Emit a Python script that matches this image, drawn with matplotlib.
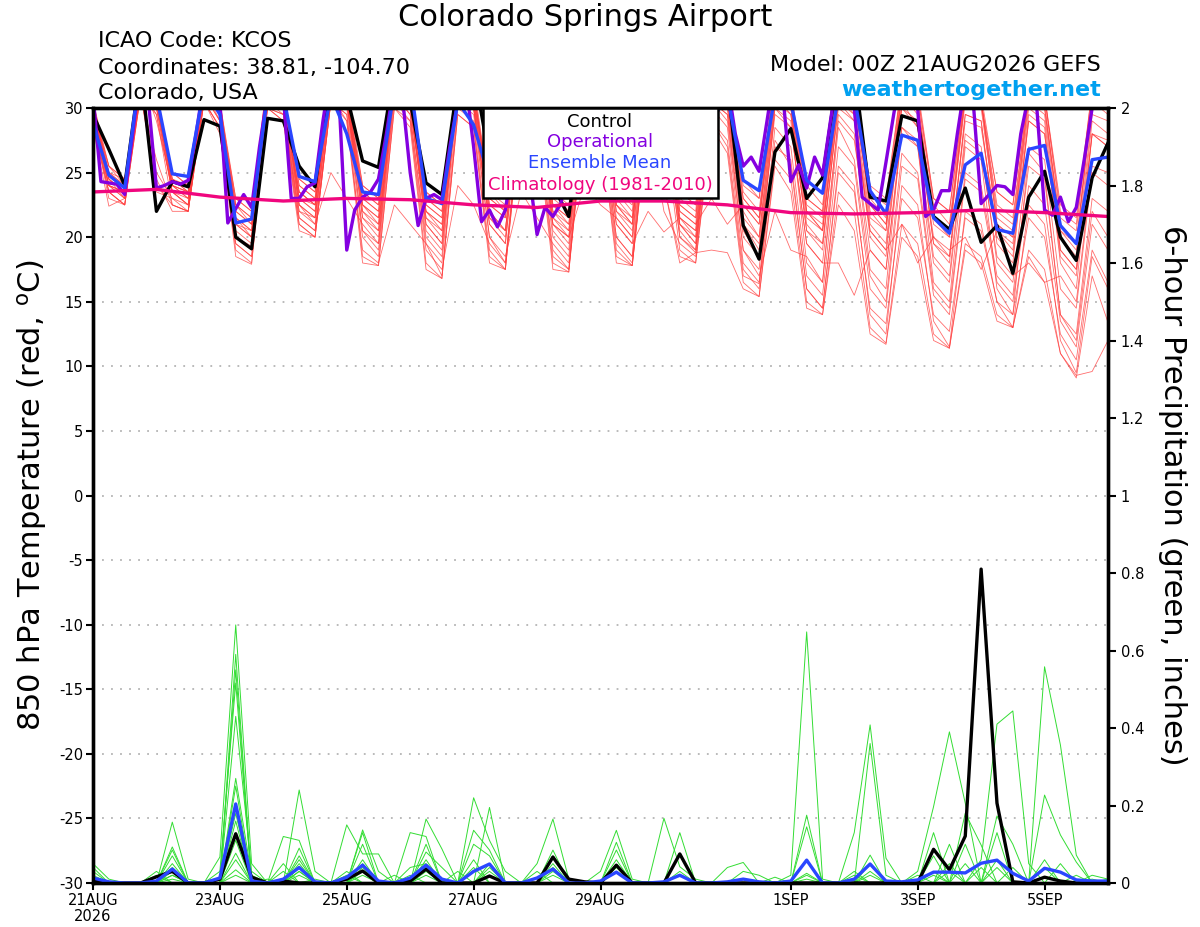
import numpy as np
import matplotlib.pyplot as plt
from matplotlib.patches import Rectangle

plt.rcParams['axes.unicode_minus'] = False
plt.rcParams['font.family'] = ['DejaVu Sans']

# forecast hours (6-hourly ensemble, 3-hourly operational, daily climatology)
hours = np.arange(0, 385, 6)
op_hours = np.arange(0, 385, 3)
clim_hours = np.arange(0, 385, 24)

tick_days = [0, 2, 4, 6, 8, 11, 13, 15]
tick_labels = ['21AUG\n2026', '23AUG', '25AUG', '27AUG', '29AUG', '1SEP', '3SEP', '5SEP']
temp_ticks = [30, 25, 20, 15, 10, 5, 0, -5, -10, -15, -20, -25, -30]
precip_ticks = [0, 0.2, 0.4, 0.6, 0.8, 1, 1.2, 1.4, 1.6, 1.8, 2]
precip_labels = ['0', '0.2', '0.4', '0.6', '0.8', '1', '1.2', '1.4', '1.6', '1.8', '2']

# 850 hPa temperature (C)
control_t = [29.5, 26.8, 24.0, 33.0, 22.0, 24.3, 23.9, 29.1, 28.6, 20.0, 19.1, 29.2,
             29.0, 25.5, 23.9, 33.0, 31.0, 25.9, 25.4, 33.0, 30.5, 24.2, 23.3, 32.0,
             33.0, 26.0, 25.0, 31.0, 31.5, 24.0, 21.6, 31.0, 30.5, 26.0, 24.5, 31.0,
             31.0, 25.5, 24.0, 30.5, 32.0, 20.9, 18.3, 26.6, 28.4, 23.0, 24.6, 33.0,
             33.0, 23.1, 22.8, 29.4, 29.0, 21.6, 20.6, 23.8, 19.6, 20.9, 17.2, 23.1,
             25.1, 20.0, 18.2, 24.6, 27.3]

mean_t = [28.8, 24.8, 23.8, 33.0, 31.0, 24.9, 24.7, 31.5, 29.5, 21.1, 21.4, 31.0,
          31.0, 24.7, 24.3, 31.0, 28.0, 23.5, 23.3, 31.5, 32.0, 23.0, 22.6, 30.5,
          28.7, 24.5, 24.0, 29.0, 31.0, 26.5, 24.0, 28.0, 31.0, 26.5, 24.5, 29.0,
          31.0, 26.0, 24.5, 29.0, 31.0, 24.4, 23.6, 31.0, 30.5, 24.4, 23.4, 31.0,
          31.0, 23.6, 21.8, 27.9, 27.5, 21.5, 20.3, 25.6, 26.5, 20.6, 20.3, 26.8,
          27.1, 20.9, 19.5, 26.0, 26.2]

oper_t = [31.0, 24.3, 24.2, 24.1, 23.3, 28.0, 33.0, 30.5,
          23.8, 24.0, 24.3, 24.1, 24.4, 28.0, 32.0, 33.0,
          30.5, 21.1, 22.2, 23.3, 22.3, 27.0, 31.0, 33.0,
          31.0, 23.0, 23.0, 23.9, 24.2, 29.0, 33.0, 31.0,
          19.0, 22.1, 23.1, 23.5, 24.5, 28.0, 32.0, 31.0,
          25.0, 20.9, 23.0, 23.3, 22.9, 27.0, 30.5, 32.0,
          27.0, 21.2, 22.1, 20.8, 22.1, 26.0, 28.0, 25.0,
          20.2, 22.3, 21.6, 22.6, 26.0, 29.0, 31.0, 30.0,
          27.0, 25.0, 24.5, 25.0, 26.0, 29.0, 31.0, 31.0,
          28.0, 25.0, 24.0, 24.5, 25.0, 28.0, 31.0, 33.0,
          32.0, 28.0, 25.5, 26.2, 25.1, 29.0, 33.0, 31.0,
          24.3, 25.6, 23.8, 26.2, 24.8, 29.0, 33.0, 33.0,
          30.0, 23.1, 22.6, 22.1, 25.8, 29.6, 33.0, 33.0,
          30.0, 21.6, 22.1, 23.6, 23.6, 28.0, 32.0, 30.5,
          22.6, 23.3, 24.0, 23.9, 23.3, 28.0, 31.0, 30.2,
          22.1, 21.7, 23.1, 21.2, 22.3, 26.0, 30.0, 33.0,
          33.0]

clim_t = [23.5, 23.7, 23.1, 22.8, 23.0, 22.9, 22.5, 22.3, 22.8, 22.8, 22.5,
          21.9, 21.8, 21.9, 22.1, 21.9, 21.6]

members_t = [
    [29.5, 25.5, 24.0, 33.5, 30.5, 25.0, 24.0, 32.0, 29.5, 22.5, 21.0, 31.5, 31.0, 24.5, 23.5, 33.0,
     32.0, 24.0, 23.0, 32.5, 31.0, 23.5, 22.5, 32.0, 30.5, 24.0, 23.0, 33.5, 32.0, 23.5, 22.0, 32.0,
     31.5, 24.5, 23.0, 32.5, 31.0, 23.5, 22.5, 33.0, 32.0, 24.5, 23.0, 32.5, 31.5, 23.0, 22.0, 33.0,
     32.5, 24.0, 23.0, 32.0, 31.5, 23.0, 22.0, 31.5, 30.5, 23.5, 22.5, 32.0, 31.0, 22.0, 21.0, 31.5, 30.5],
    [30.0, 24.5, 23.0, 32.5, 29.0, 24.0, 23.5, 31.5, 30.5, 21.5, 20.0, 32.0, 30.5, 23.0, 22.0, 32.5,
     31.0, 22.5, 21.0, 31.5, 30.0, 22.0, 20.5, 32.0, 31.5, 22.5, 21.5, 32.5, 30.5, 21.0, 20.0, 31.0,
     30.0, 22.0, 21.0, 31.5, 30.5, 21.5, 20.5, 32.0, 31.0, 22.0, 20.0, 31.5, 30.0, 21.5, 20.5, 31.0,
     29.5, 21.0, 19.5, 30.5, 28.5, 20.0, 19.0, 20.0, 17.5, 20.5, 19.5, 30.0, 29.0, 19.0, 17.5, 29.0, 28.0],
    [29.0, 23.5, 22.5, 31.5, 25.0, 23.0, 22.0, 31.0, 29.0, 20.0, 19.0, 30.5, 30.0, 22.0, 21.0, 31.5,
     30.5, 20.5, 19.0, 31.0, 29.5, 20.0, 18.5, 31.5, 30.0, 21.0, 19.5, 31.0, 29.5, 20.0, 18.5, 30.5,
     29.0, 21.0, 19.5, 30.0, 29.5, 20.5, 19.0, 30.5, 29.0, 19.0, 17.0, 22.0, 19.0, 18.5, 16.5, 28.5,
     26.0, 17.0, 15.0, 26.5, 25.0, 16.0, 14.5, 25.0, 24.0, 17.0, 15.5, 25.5, 24.5, 14.0, 12.0, 22.0, 20.0],
    [30.5, 25.0, 24.5, 33.0, 31.5, 24.5, 23.5, 32.0, 30.0, 23.0, 22.0, 32.5, 31.5, 24.0, 23.0, 33.0,
     31.0, 23.5, 22.5, 32.0, 31.5, 23.0, 22.0, 33.0, 32.0, 23.5, 22.0, 32.5, 31.0, 22.5, 21.5, 32.0,
     31.5, 23.5, 22.0, 32.5, 31.0, 22.0, 21.0, 32.0, 31.5, 23.0, 21.5, 32.5, 31.0, 22.0, 20.5, 31.5,
     30.5, 22.5, 21.0, 31.0, 30.0, 21.5, 20.5, 31.0, 30.5, 22.0, 21.0, 31.5, 30.0, 20.5, 19.5, 30.5, 29.5],
    [28.5, 24.0, 23.5, 31.0, 24.0, 22.5, 22.0, 30.5, 28.0, 19.5, 18.5, 30.0, 29.5, 21.5, 20.5, 31.0,
     29.0, 19.0, 18.0, 22.5, 21.0, 19.5, 17.0, 30.0, 29.0, 19.0, 17.5, 30.5, 29.5, 18.5, 17.5, 30.0,
     29.0, 19.5, 18.0, 29.5, 28.5, 19.0, 18.0, 29.0, 27.5, 17.5, 16.0, 27.0, 26.0, 16.0, 14.5, 25.5,
     24.0, 14.0, 12.5, 24.0, 22.5, 13.5, 11.5, 22.0, 21.0, 15.0, 13.0, 22.5, 21.0, 12.0, 9.5, 18.5, 16.0],
    [29.5, 24.0, 23.0, 32.5, 30.0, 24.5, 24.0, 31.5, 29.5, 22.0, 21.0, 31.0, 30.5, 23.5, 22.5, 32.0,
     31.0, 22.0, 20.5, 31.5, 30.5, 21.5, 20.0, 32.0, 30.5, 22.0, 20.5, 31.5, 30.0, 21.5, 20.0, 31.0,
     30.5, 22.5, 21.0, 31.5, 30.0, 21.0, 19.5, 31.0, 30.0, 20.5, 18.5, 30.0, 28.5, 19.5, 18.0, 29.0,
     27.5, 19.0, 17.5, 28.0, 27.0, 18.0, 16.5, 27.5, 26.5, 18.5, 17.0, 18.0, 16.5, 17.0, 15.0, 25.5, 25.0],
    [30.0, 25.5, 24.5, 32.0, 30.5, 23.5, 22.5, 31.5, 30.0, 21.0, 20.0, 32.5, 31.0, 22.5, 21.0, 25.0,
     23.0, 21.0, 19.5, 32.0, 30.5, 20.5, 19.0, 31.5, 30.0, 20.0, 18.0, 31.0, 30.5, 20.5, 19.0, 31.5,
     30.0, 20.0, 18.5, 31.0, 30.0, 20.0, 19.0, 30.5, 29.5, 19.0, 17.5, 30.0, 29.0, 18.0, 16.5, 29.5,
     28.0, 17.5, 16.0, 28.5, 27.0, 16.5, 15.0, 27.0, 26.0, 16.0, 14.0, 26.5, 25.0, 14.0, 12.5, 23.0, 22.0],
    [29.0, 23.0, 22.5, 31.0, 29.5, 23.5, 22.5, 31.5, 29.0, 20.5, 19.5, 31.0, 30.0, 21.5, 20.5, 30.5,
     30.5, 22.0, 21.0, 31.5, 30.0, 21.5, 20.5, 31.0, 30.5, 21.0, 19.5, 31.5, 30.5, 22.0, 20.5, 31.0,
     30.0, 21.0, 19.5, 22.0, 20.4, 21.5, 20.0, 31.0, 30.5, 21.0, 19.0, 30.5, 30.0, 20.5, 19.0, 30.5,
     29.5, 20.0, 18.5, 30.0, 29.0, 19.5, 18.0, 29.5, 29.0, 19.5, 18.0, 29.5, 28.5, 18.0, 16.0, 28.0, 27.0],
    [30.5, 24.5, 23.5, 32.5, 31.0, 24.0, 23.0, 32.5, 30.5, 21.5, 20.5, 32.0, 31.5, 23.0, 22.0, 32.5,
     31.5, 23.0, 22.0, 32.5, 31.0, 22.5, 21.5, 32.5, 31.5, 23.0, 22.0, 32.5, 31.0, 22.5, 21.0, 32.0,
     31.5, 22.5, 21.0, 32.0, 31.5, 22.5, 21.5, 32.5, 31.5, 23.0, 21.5, 32.0, 31.0, 22.5, 21.5, 32.0,
     31.0, 22.0, 20.5, 31.5, 30.5, 21.5, 20.0, 31.0, 30.5, 21.0, 20.0, 31.0, 30.5, 20.5, 19.0, 30.5, 30.0],
    [29.0, 24.0, 23.0, 31.5, 23.5, 23.0, 22.5, 30.5, 28.5, 19.0, 18.0, 30.0, 29.0, 21.0, 20.0, 30.5,
     29.5, 18.5, 17.8, 30.0, 29.0, 18.0, 16.8, 29.5, 28.5, 18.5, 17.5, 29.5, 29.0, 18.0, 17.3, 29.5,
     28.5, 18.5, 17.8, 29.0, 24.0, 18.5, 18.0, 28.5, 26.5, 16.5, 15.4, 26.0, 24.5, 15.0, 14.0, 23.5,
     22.0, 13.0, 11.8, 21.0, 19.5, 12.5, 11.4, 19.5, 18.5, 14.0, 13.0, 19.0, 17.5, 11.0, 9.1, 17.0, 13.4],
    [30.0, 25.0, 24.0, 33.0, 30.5, 24.0, 23.5, 32.0, 30.5, 22.5, 21.5, 32.5, 31.0, 24.0, 23.0, 33.0,
     31.5, 23.5, 22.5, 32.5, 31.0, 23.0, 22.0, 32.5, 31.5, 23.5, 22.5, 33.0, 31.5, 23.0, 22.0, 32.0,
     31.0, 23.5, 22.5, 32.5, 31.5, 23.0, 22.0, 32.5, 31.5, 23.5, 22.0, 32.5, 31.0, 23.0, 22.0, 32.5,
     31.0, 23.0, 21.5, 32.0, 31.0, 22.5, 21.0, 31.5, 30.5, 22.5, 21.5, 31.5, 31.0, 21.5, 20.5, 31.0, 30.5],
    [28.5, 23.5, 22.5, 31.0, 26.0, 22.5, 22.0, 30.5, 28.5, 19.5, 18.5, 30.0, 29.5, 21.0, 20.0, 30.5,
     29.5, 20.0, 18.5, 30.5, 29.0, 19.0, 17.5, 24.0, 22.5, 19.5, 18.0, 30.0, 29.5, 19.0, 17.5, 30.0,
     29.0, 19.0, 17.8, 29.5, 22.0, 19.5, 18.5, 29.0, 27.0, 17.0, 16.4, 27.5, 25.5, 16.0, 14.5, 25.0,
     23.5, 14.5, 13.3, 23.0, 21.5, 14.0, 12.7, 21.5, 20.5, 15.0, 14.0, 21.5, 20.0, 12.5, 10.5, 19.0, 16.5],
    [29.5, 24.5, 23.5, 32.0, 30.0, 23.5, 23.0, 31.5, 29.5, 21.0, 20.0, 31.5, 30.5, 22.5, 21.5, 32.0,
     30.5, 21.5, 20.5, 31.5, 30.5, 21.0, 19.5, 31.5, 30.0, 21.5, 20.5, 31.5, 30.5, 21.0, 20.0, 24.0,
     22.5, 21.5, 20.0, 31.0, 30.0, 21.0, 20.0, 31.0, 30.5, 21.5, 20.0, 31.0, 29.5, 20.5, 19.5, 30.5,
     29.0, 20.5, 19.0, 30.0, 28.5, 19.5, 18.5, 29.5, 29.0, 20.0, 18.5, 29.0, 28.0, 18.5, 17.0, 28.0, 27.5],
    [30.5, 25.5, 24.5, 32.5, 31.0, 25.0, 24.0, 32.0, 30.5, 23.0, 22.0, 32.0, 31.0, 24.5, 23.5, 32.5,
     31.0, 24.0, 23.0, 32.5, 31.0, 23.5, 22.5, 32.0, 31.0, 24.0, 23.0, 32.5, 31.0, 23.5, 22.5, 32.0,
     31.0, 24.0, 23.0, 32.5, 31.0, 23.5, 22.5, 32.5, 31.5, 24.0, 23.0, 32.5, 31.0, 24.0, 22.5, 32.0,
     31.0, 23.5, 22.5, 32.0, 31.0, 23.0, 22.0, 32.0, 31.0, 23.5, 22.5, 32.0, 31.0, 22.5, 21.5, 31.5, 31.0],
    [29.0, 23.5, 22.5, 31.5, 29.5, 22.5, 22.0, 31.0, 29.0, 20.0, 19.3, 30.5, 29.5, 22.0, 21.5, 31.0,
     30.0, 20.5, 19.5, 31.0, 29.5, 19.5, 18.0, 30.5, 29.5, 20.0, 18.5, 23.5, 21.5, 19.5, 18.0, 30.5,
     29.5, 20.0, 18.5, 30.0, 29.5, 20.0, 18.8, 30.0, 28.5, 18.0, 16.5, 28.5, 27.0, 17.0, 15.5, 27.0,
     25.5, 16.0, 14.5, 25.5, 24.5, 15.5, 14.0, 24.5, 23.5, 16.5, 15.0, 24.0, 22.5, 13.5, 11.5, 21.0, 19.0],
    [30.0, 24.0, 23.5, 32.0, 30.5, 24.0, 23.0, 32.5, 30.0, 22.0, 21.0, 31.5, 30.5, 23.0, 22.5, 32.0,
     30.5, 22.5, 21.5, 32.0, 30.5, 22.0, 21.0, 32.0, 30.5, 22.5, 21.5, 32.0, 30.5, 22.0, 21.0, 31.5,
     30.5, 22.5, 21.5, 32.0, 30.5, 22.0, 21.0, 23.0, 21.0, 22.5, 21.0, 31.5, 30.0, 22.0, 20.5, 31.0,
     30.0, 21.5, 20.5, 31.0, 29.5, 21.0, 20.0, 30.5, 30.0, 21.0, 20.0, 30.5, 29.5, 20.0, 18.5, 29.5, 29.0],
    [29.5, 25.0, 24.0, 32.5, 30.5, 24.5, 23.5, 32.0, 29.5, 21.5, 20.5, 31.5, 30.5, 23.5, 22.5, 32.5,
     31.0, 22.5, 21.5, 32.0, 30.5, 22.0, 21.0, 32.0, 31.0, 22.0, 20.5, 32.0, 30.5, 21.5, 20.5, 31.5,
     30.5, 22.0, 20.5, 31.5, 30.5, 21.5, 20.5, 31.5, 30.0, 21.0, 19.5, 30.5, 29.5, 21.0, 19.5, 30.0,
     29.0, 20.5, 19.0, 21.0, 18.0, 20.0, 18.5, 29.0, 28.5, 20.5, 19.0, 29.0, 28.0, 19.0, 17.5, 28.0, 27.0],
    [30.0, 24.5, 23.5, 32.5, 30.5, 24.0, 23.5, 32.5, 30.0, 22.5, 21.5, 32.0, 31.0, 23.5, 22.5, 32.5,
     31.0, 23.0, 22.0, 32.5, 31.0, 22.5, 21.5, 32.5, 31.0, 23.0, 22.0, 32.5, 31.0, 22.5, 21.5, 32.0,
     31.0, 23.0, 21.5, 32.0, 31.0, 22.5, 21.5, 32.0, 31.0, 22.5, 21.0, 32.0, 30.5, 22.0, 21.0, 31.5,
     30.5, 22.5, 21.0, 31.5, 30.5, 21.5, 20.5, 31.0, 30.5, 21.5, 20.5, 31.0, 30.0, 21.0, 19.5, 30.5, 30.0],
    [28.5, 22.4, 23.0, 31.0, 24.5, 22.0, 22.0, 30.5, 28.5, 18.5, 17.9, 30.0, 29.0, 20.5, 20.0, 30.5,
     29.0, 18.0, 17.8, 30.0, 28.5, 17.5, 16.8, 29.5, 28.5, 18.0, 17.5, 29.5, 28.5, 17.5, 17.3, 29.5,
     28.5, 18.0, 17.8, 29.0, 24.0, 18.0, 18.8, 19.0, 18.8, 16.0, 15.4, 25.5, 23.5, 14.5, 14.0, 22.5,
     20.5, 12.5, 11.7, 20.0, 18.5, 12.0, 11.4, 19.0, 18.0, 13.5, 13.0, 18.5, 16.5, 11.0, 9.3, 9.6, 12.0],
    [29.5, 24.0, 23.5, 32.0, 30.0, 23.5, 22.5, 31.5, 29.5, 21.0, 20.5, 31.0, 30.0, 22.5, 21.5, 31.5,
     30.5, 21.5, 20.0, 31.5, 30.0, 21.0, 19.5, 31.0, 30.0, 21.5, 20.0, 31.0, 30.0, 21.0, 19.5, 31.0,
     30.0, 21.5, 20.0, 31.0, 30.0, 21.0, 19.5, 30.5, 29.5, 20.0, 18.5, 29.5, 28.5, 19.5, 18.0, 18.0,
     15.5, 19.0, 17.5, 28.5, 27.5, 18.5, 17.0, 28.0, 27.0, 18.0, 16.5, 27.0, 26.0, 16.0, 14.5, 25.0, 24.0],
]

# 6-hour precipitation (inches)
control_p = [.005, 0, 0, 0, .016, .03, 0, 0, .01, .127, .015, 0, .005, 0, 0, 0,
             .01, .031, 0, 0, .005, .036, 0, 0, 0, .018, 0, 0, 0, .067, .01, .003,
             0, .046, 0, 0, 0, .075, 0, 0, 0, 0, 0, 0, 0, 0, 0, 0,
             0, 0, 0, 0, 0, .087, .034, .121, .81, .206, .003, 0, .015, .005, 0, 0, 0]

mean_p = [.013, .003, 0, 0, .005, .036, 0, 0, .013, .204, .005, 0, .01, .04, .003, 0,
          .015, .046, .005, 0, .013, .046, .01, 0, .03, .049, 0, 0, .013, .036, 0, 0,
          .005, .028, 0, 0, .003, .02, 0, 0, .003, .01, .003, 0, .005, .059, 0, 0,
          .01, .049, .005, .003, .008, .028, .028, .026, .051, .059, .025, .005, .038, .028, .008, .005, .005]

members_p = [
    [.05,.01,0,0, 0,0,0,0, 0,.27,.02,0, 0,0,0,0, 0,.1,0,0, 0,0,0,0, .1,.07,0,0, 0,0,0,0, 0,0,0,0, 0,.13,0,0, 0,0,0,0, 0,0,0,0, 0,.03,0,0, 0,0,0,0, 0,0,0,0, .558,.356,.072,0, 0],
    [0,0,0,0, 0,.07,0,0, 0,.06,0,0, 0,.24,.03,0, 0,0,0,0, 0,.02,0,0, 0,0,0,0, 0,0,0,0, 0,.105,0,0, 0,0,0,0, 0,0,0,0, 0,0,0,0, 0,0,0,0, .02,0,0,0, 0,.173,.1,0, 0,0,0,0, 0],
    [0,0,0,0, .02,0,0,0, 0,.59,0,.01, 0,0,0,0, .02,0,0,0, 0,.06,0,0, 0,0,0,0, 0,.07,0,0, 0,0,0,0, 0,0,0,0, 0,0,0,0, 0,.025,0,0, 0,0,0,0, 0,0,0,.18, .098,0,0,0, 0,0,0,0, 0],
    [.04,0,0,0, 0,0,0,0, 0,.18,0,0, 0,.04,0,0, 0,.03,0,0, 0,0,0,.03, 0,.02,0,0, 0,0,0,0, 0,0,0,0, 0,.03,0,0, 0,0,0,0, 0,0,0,0, .13,.408,.064,0, 0,0,0,0, 0,0,0,0, 0,0,.02,0, 0],
    [0,0,0,0, 0,.157,.01,0, 0,0,0,0, 0,.09,0,0, 0,0,0,0, 0,.1,0,0, 0,0,0,0, .03,0,0,0, 0,0,0,0, 0,0,0,0, .04,.053,0,0, 0,0,0,0, 0,0,0,0, 0,.03,0,0, 0,0,0,0, 0,0,0,.01, 0],
    [0,0,0,0, 0,0,0,0, .067,.666,.05,0, 0,0,0,0, 0,.06,0,0, 0,0,0,0, .06,0,0,0, 0,0,0,0, 0,.06,0,0, 0,0,0,0, 0,0,0,0, 0,0,0,0, 0,.072,0,0, 0,0,0,0, 0,.13,0,0, 0,0,0,0, 0],
    [0,0,0,0, 0,.04,0,0, 0,.2,0,0, 0,.03,0,0, 0,0,0,0, .04,.05,0,0, 0,0,0,0, 0,.03,0,0, 0,0,0,0, 0,0,0,0, 0,0,0,0, .02,.648,.01,0, 0,0,0,0, 0,0,0,0, 0,.06,0,0, 0,0,0,0, 0],
    [.03,0,0,0, 0,0,0,0, 0,.13,0,0, 0,0,0,0, .15,.075,.075,0, 0,0,0,0, 0,.04,0,0, 0,0,0,0, 0,0,0,0, 0,.02,0,0, 0,0,0,0, 0,0,0,0, 0,0,0,0, 0,0,.05,0, 0,0,0,0, 0,.05,0,0, 0],
    [0,0,0,0, 0,.093,0,0, 0,0,0,0, .12,.11,0,0, 0,0,0,0, 0,.03,0,0, 0,0,0,0, 0,.05,0,0, 0,0,0,0, 0,0,0,0, 0,0,0,.015, 0,0,0,0, 0,0,0,0, .03,.197,.39,.206, 0,0,0,0, 0,0,0,0, 0],
    [0,0,0,0, .03,0,0,0, 0,.55,0,0, 0,0,0,0, 0,.137,.03,0, 0,0,0,0, .04,0,0,0, 0,0,0,0, 0,.04,0,0, 0,0,0,0, 0,0,0,0, 0,0,0,0, .02,0,0,0, 0,0,0,0, .06,.41,.444,.05, 0,0,0,0, 0],
    [0,0,0,0, 0,.03,0,0, 0,.034,0,0, 0,.06,0,0, 0,0,0,0, 0,.165,.088,0, 0,0,0,0, 0,.04,0,0, 0,0,0,0, 0,0,0,0, 0,0,0,0, 0,.01,0,0, 0,0,0,0, 0,.13,0,0, 0,0,0,0, 0,0,0,0, 0],
    [.02,0,0,0, 0,0,0,0, 0,.25,0,0, 0,0,.01,0, 0,.05,0,0, 0,0,0,0, 0,.05,0,0, 0,0,0,0, 0,0,0,0, .167,.042,.01,0, 0,0,0,0, 0,0,0,0, 0,.02,0,0, 0,0,0,0, 0,0,0,0, .06,0,0,0, 0],
    [0,0,0,0, 0,.085,0,0, 0,.11,0,0, 0,.03,0,0, 0,0,0,0, .13,.12,0,0, 0,0,0,0, 0,.02,0,0, 0,0,0,0, 0,0,0,0, 0,0,0,0, 0,.175,0,0, 0,0,0,0, 0,.02,0,0, 0,0,0,0, 0,0,0,.02, .01],
    [0,0,0,0, 0,.02,0,0, 0,0,0,0, .05,0,0,0, 0,.02,0,0, 0,0,0,0, .22,.11,.03,0, 0,0,0,0, 0,0,0,0, 0,0,0,0, 0,.03,.02,0, 0,0,0,0, 0,0,0,0, 0,0,.03,0, 0,0,0,0, 0,0,0,0, 0],
    [0,0,0,0, 0,0,0,0, .03,.516,0,0, 0,0,0,0, 0,.13,0,.02, 0,0,0,0, 0,.03,0,0, 0,0,0,0, 0,.085,0,0, 0,0,0,0, 0,0,0,0, 0,0,0,0, .03,0,0,0, 0,0,0,.05, 0,0,0,0, .227,.124,.054,0, 0],
    [.01,0,0,0, 0,0,0,0, 0,.02,0,0, 0,.07,0,0, 0,0,0,0, 0,.04,0,0, 0,0,0,0, .05,.165,.01,0, 0,0,0,0, 0,0,0,0, 0,0,0,0, 0,0,0,0, 0,.05,0,0, 0,0,0,0, .04,0,0,0, 0,0,0,0, 0],
    [0,0,0,0, 0,.05,0,0, 0,.077,0,0, 0,0,0,0, .03,0,0,0, 0,.08,.04,0, 0,0,0,0, 0,0,0,0, .03,.136,.01,0, 0,0,0,0, 0,0,0,0, 0,0,0,0, 0,0,0,0, 0,.07,0,0, 0,0,0,0, .04,0,0,0, 0],
    [0,0,0,0, 0,0,0,0, 0,.43,.03,0, 0,.02,0,0, 0,0,0,0, 0,0,0,0, .136,.085,0,0, 0,0,0,0, 0,0,0,0, 0,0,0,0, 0,0,0,0, 0,.145,0,0, 0,0,0,0, 0,0,0,.1, 0,0,0,0, 0,0,0,0, .01],
    [0,0,0,0, 0,.02,0,0, 0,0,0,0, .03,0,0,0, 0,.04,0,0, 0,0,0,0, 0,.195,0,0, 0,0,0,0, 0,.03,0,0, 0,0,0,0, 0,0,0,0, 0,0,0,0, 0,.36,.02,0, 0,0,0,0, 0,.04,0,0, 0,0,0,0, 0],
    [0,0,0,0, 0,.01,0,0, 0,.16,0,0, 0,.05,0,0, 0,0,0,0, .02,0,0,0, 0,0,0,0, 0,.085,0,0, 0,0,0,0, 0,0,0,0, 0,0,0,0, 0,.02,0,0, 0,0,0,0, 0,0,.1,0, 0,0,.04,0, 0,0,0,0, 0],
]

for k, m in enumerate(members_t):
    assert len(m) == 65, "temp member %d has %d" % (k, len(m))
for k, m in enumerate(members_p):
    assert len(m) == 65, "precip member %d has %d" % (k, len(m))
assert len(oper_t) == 129, len(oper_t)

W, H = 1200, 927
fig = plt.figure(figsize=(W / 100, H / 100), dpi=100)
ax = fig.add_axes([93 / W, 44 / H, 1015 / W, 775 / H])
ax2 = ax.twinx()

days = hours / 24
op_days = op_hours / 24
clim_days = clim_hours / 24

for m in members_t:
    ax.plot(days, m, color='#ff3c3c', lw=0.6, alpha=0.75, zorder=2)
ax.plot(days, control_t, color='black', lw=2.4, zorder=3)
ax.plot(op_days, oper_t, color='#8400e0', lw=2.4, zorder=4)
ax.plot(days, mean_t, color='#2a46ff', lw=2.4, zorder=5)
ax.plot(clim_days, clim_t, color='#f0067e', lw=2.4, zorder=6)

for m in members_p:
    ax2.plot(days, m, color='#33dd33', lw=0.7, zorder=2)
ax2.plot(days, control_p, color='black', lw=2.4, zorder=3)
ax2.plot(days, mean_p, color='#2a46ff', lw=2.4, zorder=4)

ax.set_xlim(0, 16)
ax.set_ylim(-30, 30)
ax2.set_ylim(0, 2)

ax.set_yticks(temp_ticks)
ax.set_yticklabels([str(t) for t in temp_ticks])
ax2.set_yticks(precip_ticks)
ax2.set_yticklabels(precip_labels)
ax.set_xticks(tick_days)
ax.set_xticklabels(tick_labels, linespacing=1.1)

ax.grid(axis='y', color='#b4b4b4', ls=(0, (1, 4)), lw=1.3)
ax.set_axisbelow(True)

ax.tick_params(axis='y', direction='out', length=5, width=1.5, labelsize=10.5, pad=2)
ax.tick_params(axis='x', direction='out', length=5, width=1.5, labelsize=10.5, pad=2)
ax2.tick_params(axis='y', direction='out', length=6, width=1.5, labelsize=10.5, pad=3)
for a in (ax, ax2):
    for s in a.spines.values():
        s.set_linewidth(2.4)
        s.set_zorder(10)

# titles and header text
fig.text(585 / W, 1 - 18 / H, 'Colorado Springs Airport', ha='center', va='center', fontsize=22)
fig.text(98 / W, 1 - 47 / H, 'ICAO Code: KCOS', ha='left', va='baseline', fontsize=16)
fig.text(98 / W, 1 - 74 / H, 'Coordinates: 38.81, -104.70', ha='left', va='baseline', fontsize=16)
fig.text(98 / W, 1 - 99 / H, 'Colorado, USA', ha='left', va='baseline', fontsize=16)
fig.text(1101 / W, 1 - 71 / H, 'Model: 00Z 21AUG2026 GEFS', ha='right', va='baseline', fontsize=16)
fig.text(1101 / W, 1 - 96 / H, 'weathertogether.net', ha='right', va='baseline',
         fontsize=16, fontweight='bold', color='#00a0f0')

fig.text(32 / W, 1 - 495 / H, r'850 hPa Temperature (red, $^{\mathrm{o}}$C)', rotation=90,
         ha='center', va='center', fontsize=22)
fig.text(1172 / W, 1 - 495 / H, '6-hour Precipitation (green, inches)', rotation=270,
         ha='center', va='center', fontsize=22)

# legend box
fig.add_artist(Rectangle((483 / W, 1 - 198 / H), 235 / W, 90 / H, transform=fig.transFigure,
                         facecolor='white', edgecolor='black', lw=1.8, zorder=20))
legend_items = [('Control', 'black', 122), ('Operational', '#8400e0', 142),
                ('Ensemble Mean', '#2a46ff', 163), ('Climatology (1981-2010)', '#f0067e', 185)]
for txt, col, yy in legend_items:
    t = fig.text(600 / W, 1 - yy / H, txt, ha='center', va='center', fontsize=13, color=col)
    t.set_zorder(21)

fig.savefig('out.png', dpi=100)
